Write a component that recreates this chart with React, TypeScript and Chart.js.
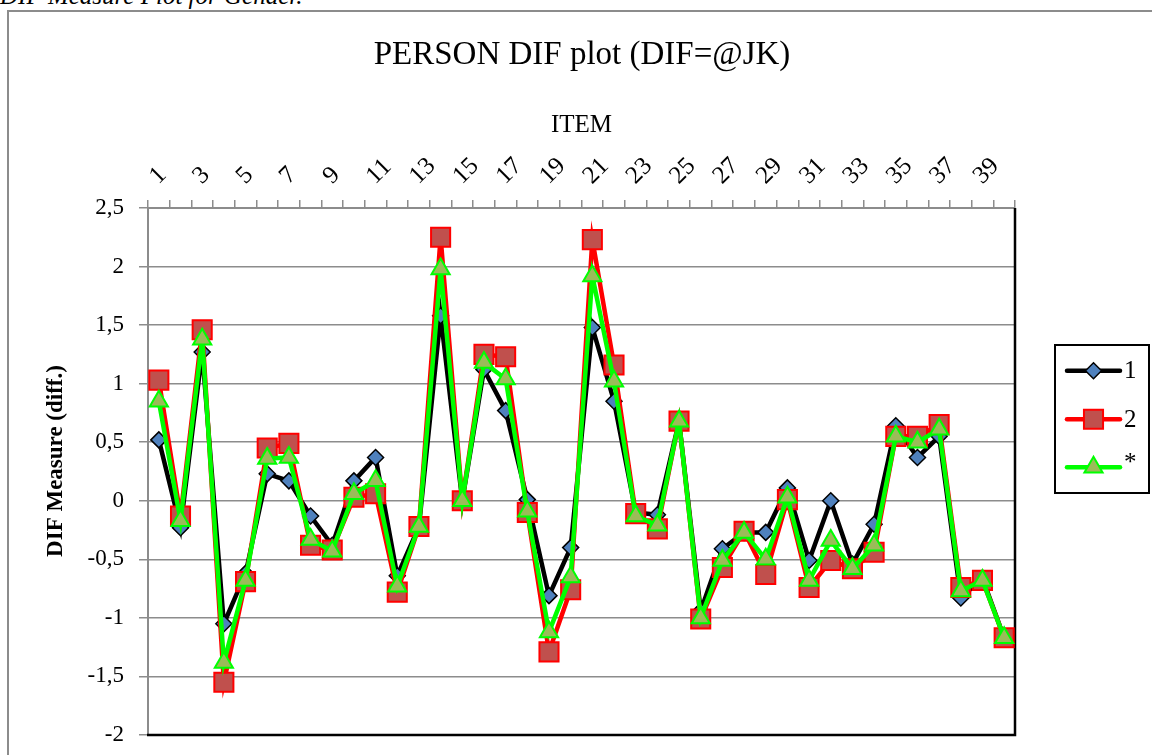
import React, { useEffect, useRef } from "react";
import { Chart, registerables } from "chart.js";

Chart.register(...registerables);

const ITEMS = ["1","2","3","4","5","6","7","8","9","10","11","12","13","14","15","16","17","18","19","20","21","22","23","24","25","26","27","28","29","30","31","32","33","34","35","36","37","38","39","40"];

const SERIES_1 = [0.52,-0.23,1.27,-1.05,-0.62,0.23,0.17,-0.13,-0.38,0.17,0.37,-0.64,-0.22,1.58,0.0,1.12,0.77,0.01,-0.81,-0.40,1.48,0.85,-0.10,-0.12,0.68,-0.94,-0.41,-0.27,-0.27,0.11,-0.51,0.0,-0.54,-0.20,0.64,0.37,0.55,-0.83,-0.66,-1.17];
const SERIES_2 = [1.03,-0.13,1.46,-1.55,-0.69,0.45,0.49,-0.38,-0.42,0.03,0.06,-0.78,-0.22,2.25,0.0,1.25,1.23,-0.10,-1.29,-0.76,2.23,1.16,-0.11,-0.24,0.68,-1.01,-0.57,-0.26,-0.63,0.01,-0.74,-0.51,-0.58,-0.44,0.55,0.55,0.65,-0.74,-0.68,-1.17];
const SERIES_ALL = [0.85,-0.17,1.38,-1.38,-0.68,0.36,0.37,-0.33,-0.43,0.06,0.17,-0.73,-0.22,1.98,0.0,1.18,1.04,-0.09,-1.12,-0.65,1.92,1.02,-0.13,-0.21,0.68,-1.0,-0.51,-0.27,-0.50,0.03,-0.68,-0.34,-0.58,-0.38,0.55,0.50,0.61,-0.77,-0.68,-1.17];

const SERIES_NAMES = ["1", "2", "*"];
const TITLE = "PERSON DIF plot (DIF=@JK)";
const X_TITLE = "ITEM";
const Y_TITLE = "DIF Measure (diff.)";
const TOP_NOTE = "DIF Measure Plot for Gender.";
const Y_MIN = -2;
const Y_MAX = 2.5;
const Y_STEP = 0.5;

const CANVAS_W = 1146;
const CANVAS_H = 760;
const AREA = { left: 139, right: 1006, top: 196, bottom: 723 };
const FONT = '"Liberation Serif", "DejaVu Serif", serif';

const STYLES = [
  { line: "#000000", fill: "#4F81BD", border: "#000000", shape: "rectRot", radius: 8, bw: 1.5 },
  { line: "#FF0000", fill: "#C0504D", border: "#FF0000", shape: "rect", radius: 13.5, bw: 2 },
  { line: "#00FF00", fill: "#9BBB59", border: "#00FF00", shape: "triangle", radius: 10.5, bw: 2 },
];

function drawMarker(ctx: CanvasRenderingContext2D, shape: string, x: number, y: number, r: number) {
  ctx.beginPath();
  if (shape === "rectRot") {
    ctx.moveTo(x - r, y);
    ctx.lineTo(x, y - r);
    ctx.lineTo(x + r, y);
    ctx.lineTo(x, y + r);
  } else if (shape === "rect") {
    const s = Math.SQRT1_2 * r;
    ctx.rect(x - s, y - s, 2 * s, 2 * s);
  } else {
    ctx.moveTo(x, y - r);
    ctx.lineTo(x + r * 0.866, y + r / 2);
    ctx.lineTo(x - r * 0.866, y + r / 2);
  }
  ctx.closePath();
}

export default function App() {
  const ref = useRef<HTMLCanvasElement>(null);

  useEffect(() => {
    if (!ref.current) return;
    const decor = {
      id: "decor",
      beforeDatasetsDraw(chart: any) {
        const { ctx, chartArea: a } = chart;
        ctx.save();
        ctx.strokeStyle = "#000";
        ctx.lineWidth = 2.5;
        ctx.beginPath();
        ctx.moveTo(a.right, a.top);
        ctx.lineTo(a.right, a.bottom);
        ctx.lineTo(a.left - 1, a.bottom);
        ctx.stroke();
        ctx.restore();
      },
      afterDraw(chart: any) {
        const { ctx, chartArea: a } = chart;
        const xs = chart.scales.x;
        ctx.save();
        ctx.fillStyle = "#000";

        // rotated category labels (every other item)
        ctx.font = `25px ${FONT}`;
        ctx.textAlign = "left";
        ctx.textBaseline = "middle";
        ITEMS.forEach((lab, i) => {
          if (i % 2 !== 0) return;
          const px = xs.getPixelForValue(i);
          ctx.save();
          ctx.translate(px - 5, 168);
          ctx.rotate(-Math.PI / 4);
          ctx.fillText(lab, 0, 0);
          ctx.restore();
        });

        ctx.textAlign = "center";
        ctx.textBaseline = "middle";
        ctx.font = `33px ${FONT}`;
        ctx.fillText(TITLE, chart.width / 2, 43);
        ctx.font = `25px ${FONT}`;
        ctx.fillText(X_TITLE, (a.left + a.right) / 2, 113);
        ctx.save();
        ctx.translate(47, 449);
        ctx.rotate(-Math.PI / 2);
        ctx.font = `bold 23px ${FONT}`;
        ctx.fillText(Y_TITLE, 0, 0);
        ctx.restore();

        // legend
        ctx.strokeStyle = "#000";
        ctx.lineWidth = 2;
        ctx.strokeRect(1046, 333, 94, 148);
        const ys = [358.7, 407.3, 455.3];
        SERIES_NAMES.forEach((name, i) => {
          const st = STYLES[i];
          const y = ys[i];
          ctx.strokeStyle = st.line;
          ctx.lineWidth = 4.5;
          ctx.lineCap = "round";
          ctx.beginPath();
          ctx.moveTo(1058, y);
          ctx.lineTo(1111, y);
          ctx.stroke();
          ctx.lineCap = "butt";
          drawMarker(ctx, st.shape, 1084.5, y, st.radius);
          ctx.fillStyle = st.fill;
          ctx.fill();
          ctx.strokeStyle = st.border;
          ctx.lineWidth = st.bw;
          ctx.stroke();
          ctx.fillStyle = "#000";
          ctx.textAlign = "left";
          ctx.font = `25px ${FONT}`;
          ctx.fillText(name, 1115, name === "*" ? y - 4 : y + 1);
        });
        ctx.restore();
      },
    };

    const mk = (label: string, data: number[], i: number, order: number) => ({
      label,
      data,
      order,
      borderColor: STYLES[i].line,
      borderWidth: 4.5,
      backgroundColor: STYLES[i].fill,
      pointStyle: STYLES[i].shape,
      pointRadius: STYLES[i].radius,
      pointBackgroundColor: STYLES[i].fill,
      pointBorderColor: STYLES[i].border,
      pointBorderWidth: STYLES[i].bw,
      tension: 0,
      fill: false,
    });

    Chart.defaults.font.family = FONT;
    const chart = new Chart(ref.current, {
      type: "line",
      data: {
        labels: ITEMS,
        datasets: [
          mk(SERIES_NAMES[0], SERIES_1, 0, 3),
          mk(SERIES_NAMES[1], SERIES_2, 1, 2),
          mk(SERIES_NAMES[2], SERIES_ALL, 2, 1),
        ],
      },
      options: {
        responsive: false,
        animation: false,
        devicePixelRatio: 1,
        layout: {
          padding: { left: 0, top: 0, right: CANVAS_W - AREA.right, bottom: CANVAS_H - AREA.bottom },
        },
        plugins: {
          legend: { display: false },
          title: { display: false },
          tooltip: { enabled: false },
        },
        scales: {
          x: {
            type: "category",
            position: "top",
            offset: true,
            grid: {
              offset: true,
              drawOnChartArea: false,
              drawTicks: true,
              tickLength: 8,
              color: "#8c8c8c",
              lineWidth: 1.5,
            },
            border: { display: true, color: "#8c8c8c", width: 2 },
            ticks: {
              display: false,
              autoSkip: false,
              maxRotation: 0,
              minRotation: 0,
            },
            afterFit: (s: any) => {
              s.height = AREA.top;
            },
          },
          y: {
            min: Y_MIN,
            max: Y_MAX,
            ticks: {
              stepSize: Y_STEP,
              padding: 15,
              color: "#000",
              font: { family: FONT, size: 23 },
              callback: (v: any) => String(v).replace(".", ","),
            },
            grid: { color: "#8c8c8c", lineWidth: 1.5, tickLength: 9, drawTicks: true },
            border: { display: true, color: "#8c8c8c", width: 2 },
            afterFit: (s: any) => {
              s.width = AREA.left;
            },
          },
        },
      },
      plugins: [decor],
    } as any);
    return () => chart.destroy();
  }, []);

  return (
    <div style={{ position: "fixed", left: 0, top: 0, width: 1152, height: 755, overflow: "hidden", background: "#fff" }}>
      <div
        style={{
          position: "absolute",
          left: 0,
          top: -17,
          fontFamily: FONT,
          fontStyle: "italic",
          fontSize: 25,
          lineHeight: "25px",
          whiteSpace: "nowrap",
          color: "#000",
        }}
      >
        {TOP_NOTE}
      </div>
      <div
        style={{
          position: "absolute",
          left: 7,
          top: 10,
          width: CANVAS_W,
          height: CANVAS_H,
          border: "2px solid #8c8c8c",
          background: "#fff",
        }}
      >
        <canvas ref={ref} width={CANVAS_W} height={CANVAS_H} style={{ display: "block", width: CANVAS_W, height: CANVAS_H }} />
      </div>
    </div>
  );
}
